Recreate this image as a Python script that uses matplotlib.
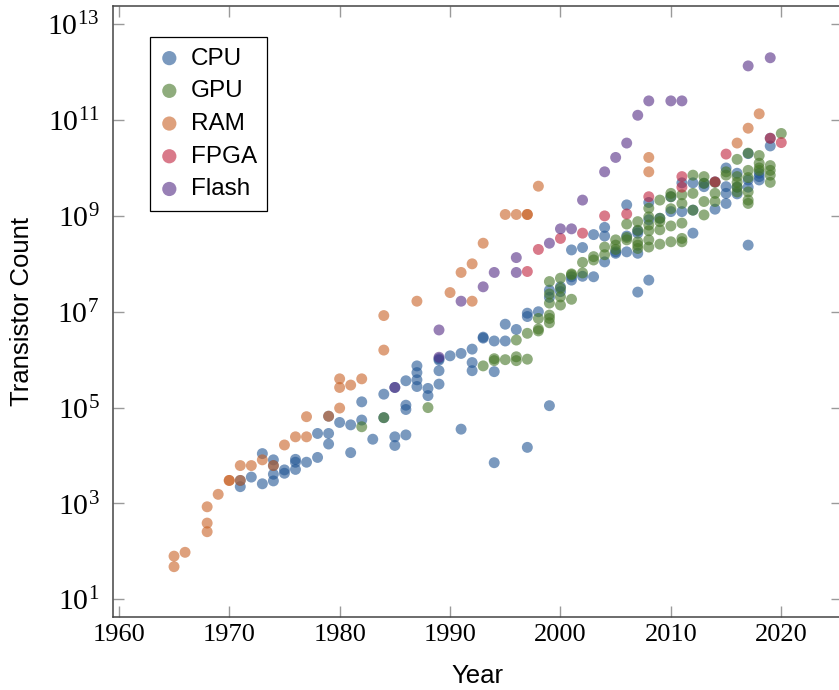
import numpy as np
import matplotlib
matplotlib.use("Agg")
import matplotlib.pyplot as plt
from matplotlib import font_manager

# ---------------- data (year, log10 transistor count) ----------------
cpu_year = [1971, 1971, 1972, 1973, 1973, 1974, 1974, 1974, 1974, 1975, 1975,
            1976, 1976, 1976, 1977, 1978, 1978, 1979, 1979, 1979, 1980, 1981, 1981,
            1982, 1982, 1983, 1984, 1984, 1985, 1985, 1985, 1986, 1986, 1986, 1986,
            1987, 1987, 1987, 1987, 1988, 1988, 1989, 1989, 1989, 1989, 1990,
            1991, 1991, 1992, 1992, 1992, 1993, 1993, 1994, 1994, 1994, 1995, 1995,
            1996, 1997, 1997, 1997, 1998, 1999, 1999, 1999, 2000, 2000,
            2001, 2001, 2001, 2002, 2002, 2003, 2003, 2004, 2004, 2004, 2005, 2005,
            2006, 2006, 2006, 2007, 2007, 2007, 2007, 2008, 2008, 2008, 2009,
            2010, 2010, 2011, 2011, 2012, 2012, 2012, 2013, 2013, 2014, 2014,
            2015, 2015, 2015, 2015, 2016, 2016, 2016, 2017, 2017, 2017, 2017,
            2018, 2018, 2018, 2019, 2019]
cpu_log = [3.35, 3.48, 3.55, 4.04, 3.41, 3.91, 3.79, 3.61, 3.47, 3.70, 3.63,
           3.92, 3.86, 3.71, 3.86, 4.46, 3.96, 4.82, 4.46, 4.24, 4.69, 4.64, 4.06,
           5.12, 4.74, 4.34, 5.28, 4.79, 5.42, 4.39, 4.21, 5.56, 5.05, 4.96, 4.43,
           5.87, 5.73, 5.58, 5.44, 5.40, 5.25, 6.02, 5.99, 5.77, 5.49, 6.08,
           6.13, 4.55, 6.22, 5.94, 5.77, 6.47, 6.45, 6.39, 5.75, 3.85, 6.74, 6.39,
           6.63, 6.97, 6.90, 4.17, 7.00, 7.45, 7.30, 5.04, 7.52, 7.42,
           8.29, 7.73, 7.66, 8.34, 7.74, 8.61, 7.73, 8.76, 8.58, 8.04, 8.22, 8.25,
           9.23, 8.58, 8.25, 8.69, 8.64, 8.22, 7.41, 9.28, 8.92, 7.66, 8.95,
           9.40, 9.09, 9.69, 9.09, 9.69, 9.12, 8.64, 9.68, 9.61, 9.71, 9.14,
           10.00, 9.61, 9.47, 9.26, 9.89, 9.60, 9.46, 10.30, 9.75, 9.60, 8.39,
           9.89, 9.82, 9.75, 10.62, 10.46]

gpu_year = [1982, 1984, 1988, 1993, 1994, 1994, 1995, 1996, 1996, 1996, 1997, 1997,
            1998, 1998, 1998, 1999, 1999, 1999, 1999, 1999, 1999,
            2000, 2000, 2000, 2000, 2001, 2001, 2001, 2002, 2002, 2003, 2003,
            2004, 2004, 2005, 2005, 2005, 2006, 2006, 2006,
            2007, 2007, 2007, 2007, 2007, 2008, 2008, 2008, 2008, 2008, 2008,
            2009, 2009, 2009, 2009, 2009, 2010, 2010, 2010, 2010, 2010,
            2011, 2011, 2011, 2011, 2011, 2012, 2012, 2012, 2013, 2013, 2013, 2013,
            2014, 2014, 2014, 2015, 2015, 2016, 2016, 2016, 2016, 2016,
            2017, 2017, 2017, 2017, 2017, 2017, 2018, 2018, 2018, 2018,
            2019, 2019, 2019, 2019, 2020]
gpu_log = [4.60, 4.79, 5.00, 5.87, 6.02, 5.98, 6.00, 6.41, 6.06, 5.98, 6.55, 6.01,
           6.86, 6.64, 6.60, 7.63, 7.37, 7.18, 6.93, 6.86, 6.77,
           7.70, 7.49, 7.31, 7.14, 7.77, 7.79, 7.26, 8.03, 7.81, 8.15, 8.08,
           8.35, 8.19, 8.50, 8.39, 8.30, 8.83, 8.55, 8.50,
           8.88, 8.70, 8.46, 8.39, 8.32, 9.16, 8.98, 8.81, 8.69, 8.50, 8.35,
           9.33, 8.95, 8.88, 8.71, 8.41, 9.47, 9.40, 9.15, 8.79, 8.46,
           9.44, 9.26, 8.85, 8.53, 8.46, 9.85, 9.47, 9.12, 9.82, 9.68, 9.30, 9.02,
           9.70, 9.47, 9.30, 9.92, 9.85, 10.18, 9.82, 9.70, 9.60, 9.50,
           10.31, 9.95, 9.80, 9.50, 9.33, 9.26, 10.26, 10.10, 10.00, 9.95,
           10.05, 9.95, 9.85, 9.70, 10.72]

ram_year = [1965, 1965, 1966, 1968, 1968, 1968, 1969, 1970, 1970, 1971, 1971,
            1972, 1973, 1974, 1975, 1976, 1977, 1977, 1979, 1980, 1980, 1980,
            1981, 1982, 1984, 1984, 1987, 1990, 1991, 1992, 1992, 1993,
            1995, 1996, 1997, 1997, 1998, 2008, 2008, 2016, 2017, 2018]
ram_log = [1.90, 1.68, 1.98, 2.93, 2.59, 2.41, 3.19, 3.48, 3.48, 3.79, 3.48,
           3.79, 3.91, 3.79, 4.22, 4.39, 4.39, 4.81, 4.82, 5.60, 5.42, 4.99,
           5.47, 5.60, 6.20, 6.92, 7.22, 7.40, 7.82, 7.22, 8.00, 8.43,
           9.03, 9.03, 9.03, 9.03, 9.62, 10.22, 9.92, 10.52, 10.83, 11.13]

fpga_year = [1997, 1998, 2000, 2002, 2004, 2006, 2008, 2011, 2011, 2014, 2015, 2019, 2020]
fpga_log = [7.84, 8.30, 8.53, 8.64, 9.00, 9.04, 9.40, 9.82, 9.60, 9.71, 10.29, 10.62, 10.53]

flash_year = [1985, 1989, 1989, 1991, 1993, 1994, 1996, 1996, 1999, 2000, 2001,
              2002, 2004, 2005, 2006, 2007, 2008, 2010, 2011, 2017, 2019]
flash_log = [5.42, 6.62, 6.05, 7.22, 7.52, 7.82, 8.13, 7.82, 8.43, 8.73, 8.73,
             9.33, 9.92, 10.22, 10.52, 11.10, 11.40, 11.40, 11.40, 12.13, 12.30]

series_names = ["CPU", "GPU", "RAM", "FPGA", "Flash"]
series_colors = ["#215594", "#447626", "#c86125", "#c0213c", "#532b85"]

y_tick_exponents = [1, 3, 5, 7, 9, 11, 13]
x_ticks = [1960, 1970, 1980, 1990, 2000, 2010, 2020]

# ---------------- fonts ----------------
avail = {f.name for f in font_manager.fontManager.ttflist}
sans = "Liberation Sans Narrow" if "Liberation Sans Narrow" in avail else "Liberation Sans"
serif = "Liberation Serif"

plt.rcParams["mathtext.fontset"] = "custom"
plt.rcParams["mathtext.rm"] = serif
plt.rcParams["mathtext.it"] = serif + ":italic"
plt.rcParams["mathtext.bf"] = serif + ":bold"

fig = plt.figure(figsize=(8.39, 6.90), dpi=100)
ax = fig.add_axes([113.3 / 839, (690 - 617.3) / 690, (842 - 113.3) / 839, (617.3 - 6) / 690])

data = [(cpu_year, cpu_log), (gpu_year, gpu_log), (ram_year, ram_log),
        (fpga_year, fpga_log), (flash_year, flash_log)]
for (yrs, lg), name, col in zip(data, series_names, series_colors):
    ax.scatter(yrs, 10.0 ** np.array(lg), s=62, color=col, alpha=0.6,
               edgecolors="none", label=name, zorder=3)

ax.set_yscale("log")
ax.set_xlim(1959.5, 2025.5)
ax.set_ylim(10 ** 0.624, 10 ** 13.38)
ax.set_yticks([10.0 ** e for e in y_tick_exponents])
ax.set_yticklabels([r"$10^{%d}$" % e for e in y_tick_exponents])
ax.yaxis.set_minor_locator(matplotlib.ticker.NullLocator())
ax.set_xticks(x_ticks)
ax.set_xticklabels([str(t) for t in x_ticks])

ax.tick_params(axis="both", which="major", direction="in", length=8.2, width=1.0,
               color="#9a9a9a", top=True, right=True)
ax.tick_params(axis="x", pad=5, labelsize=19)
ax.tick_params(axis="y", pad=10, labelsize=21.5)
for lab in ax.get_xticklabels():
    lab.set_fontfamily(serif)

for sp in ax.spines.values():
    sp.set_color("#444444")
    sp.set_linewidth(1.1)

ax.set_xlabel("Year", family=sans, fontsize=18.5, va="center")
ax.set_ylabel("Transistor Count", family=sans, fontsize=18.5, va="center")
ax.xaxis.set_label_coords(0.5, -(676 - 617.3) / 611.3)
ax.yaxis.set_label_coords((22 - 113.3) / 728.7, 0.5)

leg = ax.legend(loc="upper left", bbox_to_anchor=((150 - 113.3) / 728.7, 1 - (37.3 - 6) / 611.3),
                borderaxespad=0, frameon=True, fancybox=False, framealpha=1,
                edgecolor="black", prop={"family": sans, "size": 17.5},
                borderpad=0.42, handlelength=0.75, handletextpad=0.5,
                labelspacing=0.44, markerscale=1.3)
leg.get_frame().set_linewidth(0.9)

fig.savefig("out.png", dpi=100)
